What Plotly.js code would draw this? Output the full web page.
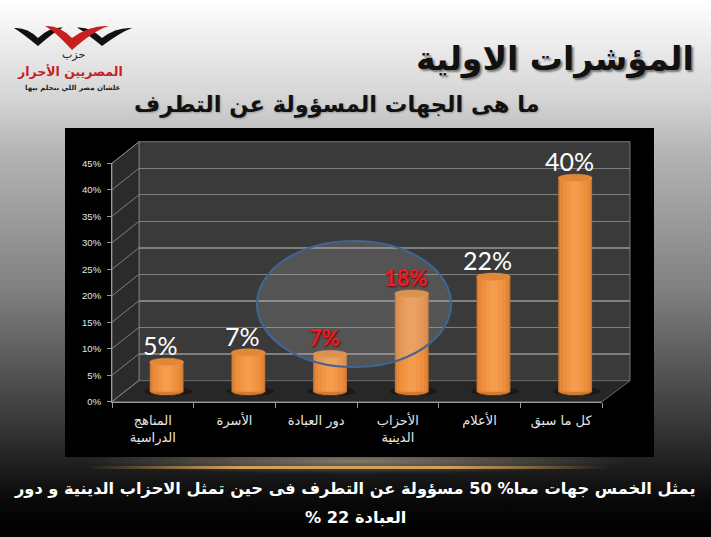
<!DOCTYPE html>
<html><head><meta charset="utf-8">
<script src="https://cdn.plot.ly/plotly-3.0.1.min.js"></script>
<style>
html,body{margin:0;padding:0;width:711px;height:537px;overflow:hidden;background:#000}
#bg{position:absolute;left:0;top:0;width:711px;height:537px;
background:
 linear-gradient(to right,rgba(0,0,0,0) 85px,rgba(225,170,90,.9) 240px,rgba(225,170,90,.9) 450px,rgba(0,0,0,0) 610px) 0 466px/711px 3px no-repeat,
 radial-gradient(ellipse 270px 13px at 355px 461px,rgba(165,150,130,.75),rgba(0,0,0,0)) 0 0/100% 100% no-repeat,
 linear-gradient(to bottom,#fff 0,#f2f2f2 30px,#d4d4d4 100px,#b5b5b5 150px,#808080 290px,#3a3a3a 420px,#1f1f1f 465px,#090909 500px,#000 537px);}
#c{position:absolute;left:0;top:0}
</style></head><body><div id="bg"></div><div id="c"></div>
<script>
const categories=['المناهج<br>الدراسية','الأسرة','دور العبادة','الأحزاب<br>الدينية','الأعلام','كل ما سبق'];
const barHeights=[5,6.8,6.5,18,21.2,40];
const valueLabels=['5%','7%','7%','18%','22%','40%'];
const labelColors=['#ffffff','#ffffff','#e8202a','#e8202a','#ffffff','#ffffff'];
const labelBold=[false,false,true,true,false,false];
const yTicks=[0,5,10,15,20,25,30,35,40,45];
const titleText='المؤشرات الاولية';
const subtitleText='ما هى الجهات المسؤولة عن التطرف';
const noteLine1='يمثل الخمس جهات معا% 50 مسؤولة عن التطرف فى حين تمثل الاحزاب الدينية و دور';
const noteLine2='\u202Bالعبادة 22 %\u202C';
const logoText=['حزب','المصريين الأحرار','علشان مصر اللي بنحلم بيها'];

const W=711,H=537;
const fx=x=>x/W, fy=y=>1-y/H;
const poly=(pts,close)=>'M'+pts.map(p=>fx(p[0])+','+fy(p[1])).join(' L')+(close?' Z':'');
const curve=d=>d.replace(/(-?[\d.]+),(-?[\d.]+)/g,(m,a,b)=>fx(+a)+','+fy(+b));
const FA='"DejaVu Sans",sans-serif';
const paper={xref:'paper',yref:'paper'};

const layers=[[.415,'#b96b2a'],[.40,'#d27c33'],[.37,'#e5873a'],[.30,'#ee8f3e'],[.20,'#f29646'],[.10,'#f59c4e']];
const traces=[{x:categories,y:barHeights,xaxis:'x',yaxis:'y',type:'scatter',mode:'markers',marker:{opacity:0},hoverinfo:'skip'}];
layers.forEach(l=>traces.push({type:'bar',x:categories,y:barHeights.map(h=>h+0.6),base:-0.6,width:l[0],
  marker:{color:l[1],line:{width:0}},xaxis:'x3',yaxis:'y3',hoverinfo:'skip'}));

const shapes=[
 {type:'rect',...paper,x0:fx(65),x1:fx(654),y0:fy(457),y1:fy(128),fillcolor:'#000',line:{width:0},layer:'below'},
 {type:'path',...paper,path:poly([[139,141.7],[630,141.7],[630,380.7],[139,380.7]],1),fillcolor:'#3a3a3a',line:{color:'#777',width:1},layer:'below'},
 {type:'path',...paper,path:poly([[112,163.3],[139,141.7],[139,380.7],[112,401.7]],1),fillcolor:'#2b2b2b',line:{color:'#777',width:1},layer:'below'},
 {type:'path',...paper,path:poly([[112,401.7],[139,380.7],[630,380.7],[602,401.7]],1),fillcolor:'#272727',line:{color:'#666',width:1},layer:'below'},
];
yTicks.forEach(v=>{
  const frac=v/45, yf=401.7-238.4*frac;
  shapes.push({type:'line',...paper,x0:fx(112),x1:fx(139),y0:fy(yf),y1:fy(yf-21.5),line:{color:'#808080',width:1},layer:'below'});
});
barHeights.forEach((h,i)=>{
  shapes.push({type:'circle',xref:'x3',yref:'y3',x0:i-.27,x1:i+.31,y0:-1.5,y1:0.3,fillcolor:'rgba(10,8,5,.45)',line:{width:0},layer:'below'});
  shapes.push({type:'circle',xref:'x3',yref:'y3',x0:i-.2075,x1:i+.2075,y0:-1.4,y1:0.2,fillcolor:'#d27c33',line:{color:'#5a2c0c',width:1},layer:'below'});
  shapes.push({type:'circle',xref:'x3',yref:'y3',x0:i-.2075,x1:i+.2075,y0:h-.7,y1:h+.7,fillcolor:'#e08835',line:{color:'#e8924a',width:.5},layer:'above'});
});
shapes.push({type:'circle',...paper,x0:fx(257),x1:fx(451),y0:fy(367),y1:fy(241),fillcolor:'rgba(190,190,190,.2)',line:{color:'#3f6593',width:2.2},layer:'above'});
// logo
const wing=(a,b,c,w2)=>curve(`M${a[0]},${a[1]} Q${(a[0]+b[0])/2+1},${a[1]-1} ${b[0]},${b[1]} Q${(b[0]+c[0])/2-1},${c[1]-1} ${c[0]},${c[1]} Q${(b[0]+c[0])/2+4},${c[1]+4} ${b[0]},${b[1]+w2} Q${(a[0]+b[0])/2-4},${a[1]+5} ${a[0]},${a[1]} Z`);
shapes.push({type:'path',...paper,path:wing([14,28],[38,38],[63,27.5],8),fillcolor:'#111',line:{width:0},layer:'above'});
shapes.push({type:'path',...paper,path:wing([77,27.5],[102,38],[132,28],8),fillcolor:'#111',line:{width:0},layer:'above'});
shapes.push({type:'path',...paper,path:wing([45,26],[72,38],[109,26],12),fillcolor:'#c8201f',line:{width:0},layer:'above'});

const ann=(x,y,text,size,color,bold,family,shadow)=>({...paper,x:fx(x),y:fy(y),xanchor:'center',yanchor:'middle',showarrow:false,text:bold?'<b>'+text+'</b>':text,
  font:{size:size,color:color,family:family||FA,shadow:shadow||'none'}});
const annotations=[
 ann(555,59,titleText,33,'#111',true,FA,'2px 2px 2px #777'),
 ann(337,105,subtitleText,22.5,'#111',true,FA,'1px 1px 2px #999'),
 ann(355,488,noteLine1,16.2,'#fff',true,FA),
 ann(355,517,noteLine2,16.2,'#fff',true,FA),
 ann(73,55,logoText[0],11,'#222',false,FA),
 ann(70,71,logoText[1],12.5,'#c8201f',true,FA),
 ann(72,88,logoText[2],7,'#222',true,FA),
];
barHeights.forEach((h,i)=>annotations.push({xref:'x3',yref:'y3',x:i,y:h,xshift:-6,yshift:16.5,xanchor:'center',yanchor:'middle',showarrow:false,
  text:labelBold[i]?'<b>'+valueLabels[i]+'</b>':valueLabels[i],
  font:{size:labelBold[i]?22:25,family:'Lato, "Open Sans", sans-serif',color:labelColors[i],shadow:labelBold[i]?'1px 1px 2px #600':'none'}}));

const layout={width:W,height:H,margin:{l:0,r:0,t:0,b:0},paper_bgcolor:'rgba(0,0,0,0)',plot_bgcolor:'rgba(0,0,0,0)',showlegend:false,barmode:'overlay',
 xaxis:{domain:[fx(112),fx(602)],type:'category',categoryorder:'array',categoryarray:categories,range:[-.5,5.5],anchor:'y',tickson:'boundaries',ticks:'outside',ticklen:5,tickcolor:'#999',ticklabelstandoff:7,
   showline:true,linecolor:'#9a9a9a',linewidth:1,showgrid:false,zeroline:false,tickfont:{family:FA,size:13,color:'#e6e6e6'},tickangle:0,automargin:false},
 yaxis:{domain:[fy(401.7),fy(163.3)],range:[0,45],anchor:'x',tickvals:yTicks,ticktext:yTicks.map(v=>v+'%'),ticks:'outside',ticklen:4,tickcolor:'#999',ticklabelstandoff:4,
   showline:true,linecolor:'#9a9a9a',linewidth:1,showgrid:false,zeroline:false,tickfont:{family:'"Liberation Sans",Arial,sans-serif',size:9.5,color:'#e6e6e6'},automargin:false},
 xaxis2:{domain:[fx(139),fx(630)],range:[-.5,5.5],anchor:'y2',visible:false,showgrid:false,zeroline:false},
 yaxis2:{domain:[fy(380.7),fy(141.7)],range:[0,45],anchor:'x2',tickvals:yTicks,showticklabels:false,ticks:'',showgrid:true,gridcolor:'#808080',gridwidth:1.3,zeroline:false,showline:false},
 xaxis3:{domain:[fx(125.8),fx(616)],type:'category',categoryorder:'array',categoryarray:categories,range:[-.5,5.5],anchor:'y3',visible:false},
 yaxis3:{domain:[fy(398.8),fy(151.6)],range:[-2,45],anchor:'x3',visible:false},
 shapes:shapes,annotations:annotations};
traces.push({x:[0,5],y:[0,45],xaxis:'x2',yaxis:'y2',type:'scatter',mode:'markers',marker:{opacity:0},hoverinfo:'skip'});
Plotly.newPlot('c',traces,layout,{staticPlot:true,displayModeBar:false});
</script></body></html>
